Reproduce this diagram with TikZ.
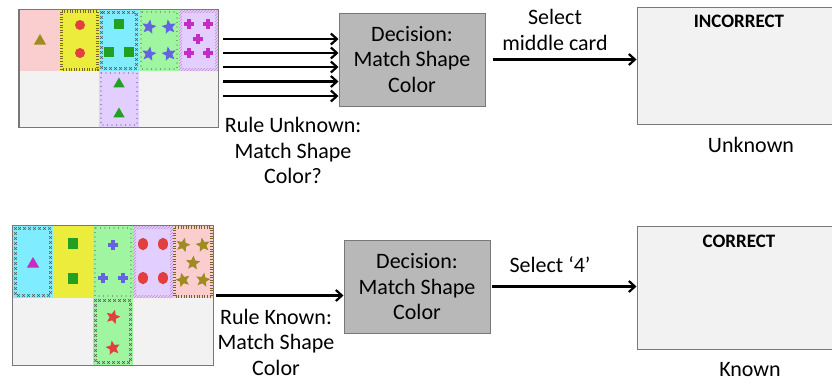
\documentclass[tikz,border=0pt]{standalone}
\usepackage{fontspec}
\setmainfont{Carlito}
\usetikzlibrary{shapes.geometric,arrows.meta,patterns,decorations.markings}
\definecolor{cpink}{RGB}{250,206,206}
\definecolor{cyel}{RGB}{236,236,60}
\definecolor{ccyan}{RGB}{128,236,255}
\definecolor{cgreen}{RGB}{160,246,160}
\definecolor{cpurp}{RGB}{226,206,255}
\definecolor{colive}{RGB}{160,138,34}
\definecolor{cred}{RGB}{226,64,64}
\definecolor{cgr}{RGB}{34,160,34}
\definecolor{cblue}{RGB}{100,100,226}
\definecolor{cmag}{RGB}{196,44,196}
\definecolor{cbg}{RGB}{242,242,242}
\definecolor{cgrayb}{RGB}{184,184,184}
\definecolor{cedge}{RGB}{120,120,120}
\definecolor{cmarks}{RGB}{90,90,90}
\definecolor{cticks}{RGB}{120,100,40}
\newcommand\plusmark[3]{\draw[line width=3.4pt,#3] (#1-5,#2)--(#1+5,#2) (#1,#2-5)--(#1,#2+5);}
\tikzset{
  panel/.style={draw=none,fill=cbg,inner sep=0pt},
  decision/.style={draw=cedge,line width=1pt,fill=cgrayb,inner sep=0pt,align=center,
    font=\fontsize{22}{25.5}\selectfont},
  result/.style={draw=cedge,line width=1pt,fill=cbg,inner sep=0pt},
  lbl/.style={font=\fontsize{22}{25.5}\selectfont,align=center,inner sep=0pt},
  head/.style={font=\fontsize{19}{22}\selectfont\bfseries,inner sep=0pt},
  conn/.style={-{Straight Barb[length=6pt,width=11pt]},line width=2.2pt},
  ticks/.style={draw=cticks,line width=3pt,dash pattern=on 0.6pt off 2pt},
  dotb/.style={draw=cmarks,line width=1.4pt,line cap=round,dash pattern=on 0pt off 4.5pt},
  hatch/.style={pattern=north east lines,pattern color=violet!45,even odd rule},
  xmk/.style={postaction={decorate,decoration={markings,
     mark=between positions 0 and 1 step 5pt with {\draw[cmarks,line width=0.5pt] (-1.3pt,-1.3pt)--(1.3pt,1.3pt) (-1.3pt,1.3pt)--(1.3pt,-1.3pt);}}}},
  tri/.style={regular polygon,regular polygon sides=3,inner sep=0pt,minimum size=14pt,fill=#1},
  sq/.style={rectangle,inner sep=0pt,minimum size=9.5pt,fill=#1},
  dot/.style={circle,inner sep=0pt,minimum size=10pt,fill=#1},
  oval/.style={ellipse,inner sep=0pt,minimum width=10pt,minimum height=12.5pt,fill=#1},
  starr/.style={star,star points=5,star point ratio=2.2,inner sep=0pt,minimum size=15pt,fill=#1},
}
\begin{document}
\begin{tikzpicture}[x=1pt,y=-1pt]
\useasboundingbox (0,0) rectangle (832,384);

% ---------- top panel ----------
\node[panel,minimum width=199pt,minimum height=117pt] (pA) at (118.75,68.5) {};
\fill[cpink] (20,10) rectangle (60,71);
\fill[cyel] (60,10) rectangle (99,71);
\draw[ticks] (61.5,11.5) rectangle (97.5,69.5);
\fill[ccyan] (99,10) rectangle (139,71);
\path[xmk] (101.5,12.5) rectangle (136.5,68.5);
\fill[cgreen] (139,10) rectangle (179,71);
\draw[dotb] (141,12) rectangle (177,69);
\fill[cpurp] (179,10) rectangle (218,71);
\fill[hatch] (179,10) rectangle (218,71) (182,13) rectangle (215,68);
\fill[cpurp] (99,71) rectangle (139,127);
\draw[dotb] (101,73) rectangle (137,125);
\draw[cedge,line width=1.2pt] (pA.south west) rectangle (pA.north east);

\node[tri=colive] at (40,41) {};
\node[dot=cred] at (80,25) {};
\node[dot=cred] at (80,53) {};
\node[sq=cgr] at (119,24) {};
\node[sq=cgr] at (109,52) {};
\node[sq=cgr] at (129,52) {};
\node[starr=cblue,rotate=-10] at (149,27) {};
\node[starr=cblue,rotate=10] at (169,27) {};
\node[starr=cblue,rotate=-10] at (149,54) {};
\node[starr=cblue,rotate=10] at (169,54) {};
\plusmark{189}{24}{cmag}
\plusmark{208}{24}{cmag}
\plusmark{198}{39}{cmag}
\plusmark{189}{53}{cmag}
\plusmark{208}{53}{cmag}
\node[tri=cgr,minimum size=13pt] at (119,84) {};
\node[tri=cgr,minimum size=13pt] at (119,114) {};

% ---------- bottom panel ----------
\node[panel,minimum width=201pt,minimum height=139pt] (pB) at (113,295.5) {};
\fill[ccyan] (13,226) rectangle (53,298);
\path[xmk] (15.5,228.5) rectangle (50.5,295.5);
\fill[cyel] (53,226) rectangle (93,298);
\fill[cgreen] (93,226) rectangle (133,298);
\draw[dotb] (95,228) rectangle (131,296);
\fill[cpurp] (133,226) rectangle (173,298);
\fill[hatch] (133,226) rectangle (173,298) (136,229) rectangle (170,295);
\fill[cpink] (173,226) rectangle (213,298);
\draw[ticks] (174.5,227.5) rectangle (211.5,296.5);
\fill[cgreen] (93,298) rectangle (133,365);
\path[xmk] (95.5,300.5) rectangle (130.5,362.5);
\draw[cedge,line width=1.2pt] (pB.south west) rectangle (pB.north east);

\node[tri=cmag] at (33,264) {};
\node[sq=cgr,minimum height=11pt] at (73,243) {};
\node[sq=cgr,minimum height=11pt] at (73,278) {};
\plusmark{113}{245}{cblue}
\plusmark{103}{278}{cblue}
\plusmark{123}{278}{cblue}
\node[oval=cred] at (143,244) {};
\node[oval=cred] at (163,244) {};
\node[oval=cred] at (143,278) {};
\node[oval=cred] at (163,278) {};
\node[starr=colive,rotate=-15] at (183,245) {};
\node[starr=colive,rotate=10] at (203,245) {};
\node[starr=colive,rotate=-5] at (193,263) {};
\node[starr=colive,rotate=15] at (183,280) {};
\node[starr=colive,rotate=-10] at (203,280) {};
\node[starr=cred,rotate=-15] at (113,317) {};
\node[starr=cred,rotate=10] at (113,348) {};

% ---------- decisions and results ----------
\node[decision,minimum width=146pt,minimum height=93pt] (dA) at (412,59.5)
  {Decision:\\Match Shape\\Color};
\node[decision,minimum width=146pt,minimum height=93pt] (dB) at (417,286.5)
  {Decision:\\Match Shape\\Color};
\node[result,minimum width=196pt,minimum height=117pt] (rA) at (735,65.5) {};
\node[result,minimum width=196pt,minimum height=123pt] (rB) at (735,287.5) {};
\node[head] (hA) at (739,21) {INCORRECT};
\node[head] (hB) at (739,241) {CORRECT};
\node[lbl] (uA) at (751,145) {Unknown};
\node[lbl] (uB) at (750,370) {Known};

% ---------- connectors ----------
\foreach \yy [count=\i] in {39,53,67,81.5,96}{
  \coordinate (s\i) at (223,\yy);
  \draw[conn] (s\i) -- (dA.west |- s\i);
}
\draw[conn,shorten <=7pt] (dA.east) -- (dA.east -| rA.west);
\draw[conn,shorten <=2pt] (pB.east) -- (pB.east -| dB.west);
\draw[conn,shorten <=1pt] (dB.east) -- (dB.east -| rB.west);

\node[lbl] (tA) at (293,150.5) {Rule Unknown:\\Match Shape\\Color?};
\node[lbl] (tB) at (276,342) {Rule Known:\\Match Shape\\Color};
\node[lbl] (sA) at (555,30) {Select\\middle card};
\node[lbl] (sB) at (550,265) {Select ‘4’};
\end{tikzpicture}
\end{document}
